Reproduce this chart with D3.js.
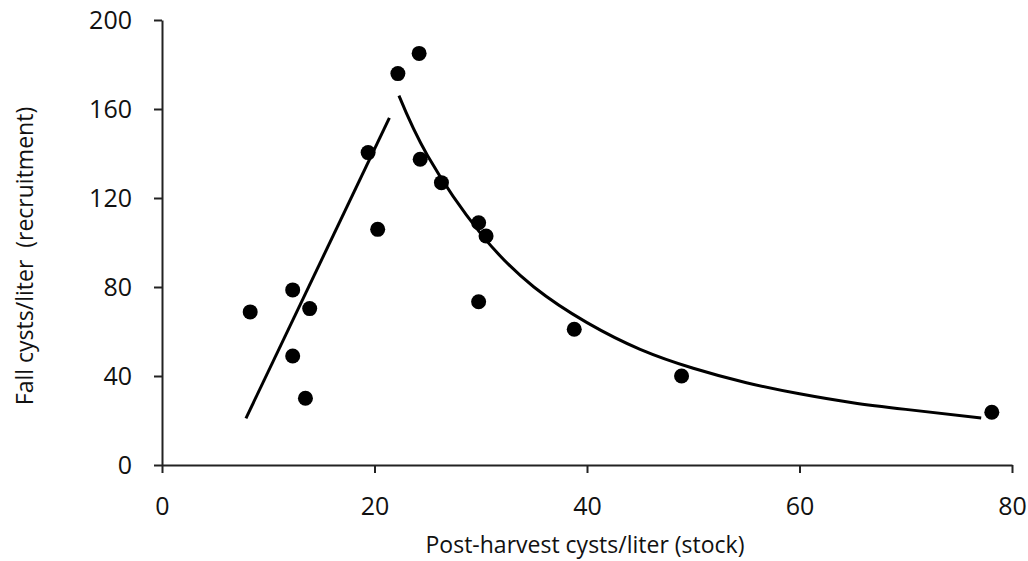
<!DOCTYPE html>
<html>
<head>
<meta charset="utf-8">
<script src="https://cdn.jsdelivr.net/npm/d3@7"></script>
<style>
  body { margin: 0; background: #fff; }
  svg { display: block; }
  .tick text { font-family: "Open Sans", sans-serif; fill: #111; }
</style>
</head>
<body>
<div class="grafico"></div>
<script>
// Valori
var stock = [8.3, 12.3, 12.3, 13.5, 13.9, 19.4, 20.3, 22.2, 24.2, 24.3, 26.3, 29.8, 30.5, 29.8, 38.8, 48.9, 78.1];
var recruitment = [68.8, 78.7, 49, 30, 70.3, 140.4, 105.9, 175.9, 185, 137.4, 126.9, 108.9, 102.9, 73.4, 61, 40, 23.7];

// retta ascendente (estremi)
var rettaX = [7.9, 21.4];
var rettaY = [21, 156];

// curva discendente (punti letti lungo la curva)
var curvaX = [22.3, 25, 30, 35, 40, 45, 50, 55, 60, 65, 70, 77.1];
var curvaY = [166, 139, 104, 80, 64, 52, 43.5, 37, 32, 28, 25, 21.1];

var xTicks = [0, 20, 40, 60, 80];
var yTicks = [0, 40, 80, 120, 160, 200];

var w = 1028,
    h = 561;

var margin = { top: 20, right: 16, bottom: 96, left: 162 };

var svg = d3.select(".grafico")
  .append("svg")
  .attr("width", w)
  .attr("height", h);

var x = d3.scaleLinear()
  .domain([0, 80])
  .range([margin.left, w - margin.right]);

var y = d3.scaleLinear()
  .domain([0, 200])
  .range([h - margin.bottom, margin.top]);

// Asse x
svg.append("g")
  .attr("class", "asse")
  .attr("transform", "translate(0," + (h - margin.bottom) + ")")
  .call(d3.axisBottom(x).tickValues(xTicks).tickSize(8).tickPadding(24).tickSizeOuter(0));

// Asse y
svg.append("g")
  .attr("class", "asse")
  .attr("transform", "translate(" + margin.left + ",0)")
  .call(d3.axisLeft(y).tickValues(yTicks).tickSize(8).tickPadding(22).tickSizeOuter(0));

svg.selectAll(".asse")
  .attr("font-size", 25)
  .attr("font-family", "Open Sans, sans-serif");

svg.selectAll(".domain, .tick line")
  .attr("stroke", "#222")
  .attr("stroke-width", 2);

// Retta
var linea = d3.line()
  .x(function (d) { return x(d[0]); })
  .y(function (d) { return y(d[1]); });

svg.append("path")
  .datum(rettaX.map(function (v, i) { return [v, rettaY[i]]; }))
  .attr("d", linea)
  .attr("fill", "none")
  .attr("stroke", "#000")
  .attr("stroke-width", 3);

// Curva
svg.append("path")
  .datum(curvaX.map(function (v, i) { return [v, curvaY[i]]; }))
  .attr("d", linea.curve(d3.curveNatural))
  .attr("fill", "none")
  .attr("stroke", "#000")
  .attr("stroke-width", 3);

// Punti
svg.selectAll(".punto")
  .data(stock)
  .enter()
  .append("circle")
  .attr("class", "punto")
  .attr("cx", function (d) { return x(d); })
  .attr("cy", function (d, i) { return y(recruitment[i]); })
  .attr("r", 7.5)
  .attr("fill", "#000");

// Titoli assi
svg.append("text")
  .attr("x", 585)
  .attr("y", 553)
  .attr("text-anchor", "middle")
  .attr("font-family", "Open Sans, sans-serif")
  .attr("font-size", 23)
  .attr("fill", "#111")
  .text("Post-harvest cysts/liter (stock)");

svg.append("text")
  .attr("transform", "translate(33,256) rotate(-90)")
  .attr("text-anchor", "middle")
  .attr("font-family", "Open Sans, sans-serif")
  .attr("font-size", 23)
  .attr("fill", "#111")
  .style("white-space", "pre")
  .text("Fall cysts/liter  (recruitment)");
</script>
</body>
</html>
